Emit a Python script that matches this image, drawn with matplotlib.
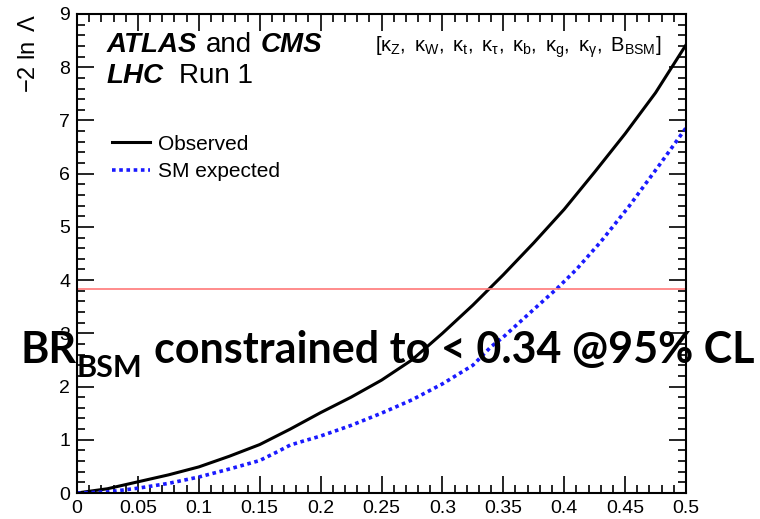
import numpy as np
import matplotlib
matplotlib.use("Agg")
import matplotlib.pyplot as plt
from matplotlib.ticker import MultipleLocator

plt.rcParams['font.family'] = ['Liberation Sans', 'DejaVu Sans']
plt.rcParams['mathtext.fontset'] = 'custom'
plt.rcParams['mathtext.rm'] = 'Liberation Sans'
plt.rcParams['mathtext.it'] = 'Liberation Sans'
plt.rcParams['mathtext.bf'] = 'Liberation Sans:bold'

# Likelihood scan of B_BSM
br_obs = [0.0, 0.025, 0.05, 0.075, 0.1, 0.125, 0.15, 0.175, 0.2, 0.225, 0.25,
          0.275, 0.3, 0.325, 0.35, 0.375, 0.4, 0.425, 0.45, 0.475, 0.5]
nll_obs = [0.0, 0.08, 0.21, 0.34, 0.49, 0.69, 0.91, 1.2, 1.51, 1.8, 2.12,
           2.5, 3.0, 3.53, 4.1, 4.7, 5.33, 6.03, 6.75, 7.52, 8.42]

br_exp = [0.0, 0.025, 0.05, 0.075, 0.1, 0.125, 0.15, 0.165, 0.175, 0.185,
          0.2, 0.225, 0.25, 0.275, 0.3, 0.325, 0.34, 0.35, 0.375, 0.394,
          0.41, 0.43, 0.453, 0.479, 0.5]
nll_exp = [0.0, 0.02, 0.09, 0.18, 0.30, 0.45, 0.61, 0.78, 0.9, 0.97,
           1.07, 1.27, 1.5, 1.75, 2.05, 2.4, 2.75, 2.93, 3.45, 3.84,
           4.2, 4.72, 5.38, 6.19, 6.86]

cl95 = 3.84

fig = plt.figure(figsize=(7.6, 5.19), dpi=100)
ax = fig.add_axes([77 / 760, 1 - 493 / 519, (686 - 77) / 760, (493 - 14) / 519])

ax.plot(br_obs, nll_obs, color='black', lw=2.2, label='Observed')
ax.plot(br_exp, nll_exp, color='#1a1aff', lw=2.6, linestyle=(0, (1, 1)),
        label='SM expected')
ax.plot([0, 0.5], [cl95, cl95], color='#ff7878', lw=1.2)

ax.set_xlim(0, 0.5)
ax.set_ylim(0, 9)
ax.set_xticks(np.arange(0, 0.51, 0.05))
ax.set_xticklabels(['0', '0.05', '0.1', '0.15', '0.2', '0.25', '0.3', '0.35',
                    '0.4', '0.45', '0.5'])
ax.xaxis.set_minor_locator(MultipleLocator(0.01))
ax.yaxis.set_major_locator(MultipleLocator(1))
ax.yaxis.set_minor_locator(MultipleLocator(0.2))
ax.tick_params(which='both', direction='in', top=True, right=True,
               labelsize=14, pad=5, width=1.2)
ax.tick_params(which='major', length=12)
ax.tick_params(which='minor', length=6)
for s in ax.spines.values():
    s.set_linewidth(1.5)

ax.set_ylabel(r'$-2\ \ln\ \Lambda$', fontsize=17, loc='top', labelpad=14)

ax.legend(loc='upper left', bbox_to_anchor=(0.0575, 0.748), frameon=False,
          fontsize=15, handlelength=1.8, handletextpad=0.4,
          labelspacing=0.4, borderaxespad=0, borderpad=0)

# Experiment labels
fig.canvas.draw()
renderer = fig.canvas.get_renderer()


def put(x, y, s, gap=0, **kw):
    t = fig.text(x, y, s, fontsize=20, va='baseline', **kw)
    bb = t.get_window_extent(renderer)
    return (bb.x1 + gap) / 760


x = put(107 / 760, 1 - 52 / 519, 'ATLAS', gap=8, fontweight='bold',
        fontstyle='italic')
x = put(x, 1 - 52 / 519, 'and', gap=9)
put(x, 1 - 52 / 519, 'CMS', fontweight='bold', fontstyle='italic')
x = put(107 / 760, 1 - 83 / 519, 'LHC', gap=15, fontweight='bold',
        fontstyle='italic')
put(x, 1 - 83 / 519, 'Run 1')

ax.text(0.49, 0.93,
        r'$[\kappa_{Z},\ \kappa_{W},\ \kappa_{t},\ \kappa_{\tau},\ '
        r'\kappa_{b},\ \kappa_{g},\ \kappa_{\gamma},\ B_{BSM}]$',
        transform=ax.transAxes, fontsize=14.5, va='center')

# Overlay statement, drawn in pieces so the subscript sits right
lato = ['Lato', 'DejaVu Sans']
ybase = 1 - 363 / 519
t1 = fig.text(20 / 760, ybase, 'BR', fontsize=31, fontweight='bold',
              family=lato, va='baseline')
bb = t1.get_window_extent(renderer)
t2 = fig.text(bb.x1 / 760, ybase - 14 / 519, 'BSM', fontsize=22,
              fontweight='bold', family=lato, va='baseline')
bb = t2.get_window_extent(renderer)
fig.text((bb.x1 + 12) / 760, ybase, 'constrained to < 0.34 @95% CL',
         fontsize=31, fontweight='bold', family=lato, va='baseline')

fig.savefig('out.png', dpi=100)
